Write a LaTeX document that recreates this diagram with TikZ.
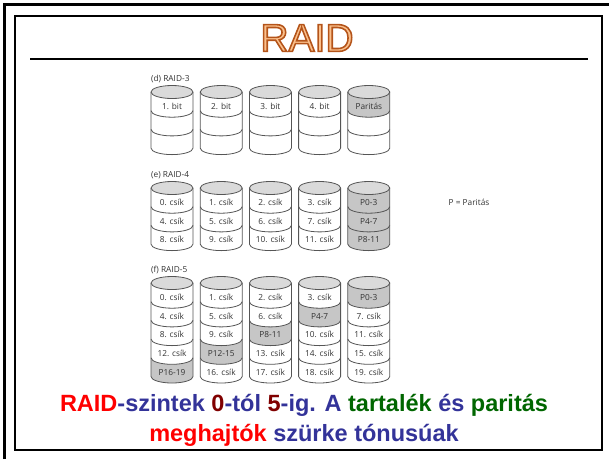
\documentclass[tikz,border=0pt]{standalone}
\usepackage{fontspec}
\setmainfont{Liberation Sans}
\newfontfamily\diskfont{Open Sans}
\newfontfamily\titlefont[FakeBold=4]{Liberation Sans}
\definecolor{titlefill}{HTML}{FBC08C}
\definecolor{titleedge}{HTML}{B4541A}
\definecolor{diskline}{HTML}{555555}
\definecolor{disktop}{HTML}{DADADA}
\definecolor{paritygray}{HTML}{C6C6C6}
\definecolor{disktext}{HTML}{333333}
\definecolor{raidred}{HTML}{FF0000}
\definecolor{raidblue}{HTML}{333399}
\definecolor{raidbrown}{HTML}{800000}
\definecolor{raidgreen}{HTML}{006600}

\begin{document}
\begin{tikzpicture}[x=1pt,y=-1pt,
  disk/.style={draw=diskline, line width=0.8pt},
  disklabel/.style={font=\diskfont\fontsize{8.3}{9}\selectfont, text=disktext, inner sep=0pt},
  bigline/.style={font=\bfseries\fontsize{23.5}{28}\selectfont, inner sep=0pt}]
\useasboundingbox (0,0) rectangle (609,459);
%
\draw[line width=2.5pt] (4.5,459) -- (4.5,4.5) -- (609,4.5);
\draw[line width=1.2pt] (15,16) rectangle (602,450);
%
\node[inner sep=0pt] (title) at (307,38)
  {\titlefont\fontsize{39}{39}\selectfont\color{titlefill}\special{pdf:code 0.706 0.329 0.102 RG}RAID};
\draw[line width=2pt] (30,59) -- (588,59);
%
% disk bodies
\foreach \y/\n in {92/3,188/3,283/5}
  \foreach \c in {172,221.2,270.4,319.6,368.8}
    \fill[white] (\c-21,\y) -- (\c-21,\y+\n*18.7)
      arc[start angle=180,end angle=360,x radius=21pt,y radius=6.5pt] -- (\c+21,\y) -- cycle;
%
% parity stripes
\foreach \c/\y/\k in {368.8/92/1, 368.8/188/1, 368.8/188/2, 368.8/188/3,
                      368.8/283/1, 319.6/283/2, 270.4/283/3, 221.2/283/4, 172/283/5}
  \fill[paritygray] (\c-21,\y+\k*18.7-18.7)
    arc[start angle=180,end angle=360,x radius=21pt,y radius=6.5pt] -- (\c+21,\y+\k*18.7)
    arc[start angle=0,end angle=-180,x radius=21pt,y radius=6.5pt] -- cycle;
%
% disk outlines
\foreach \y/\n in {92/3,188/3,283/5}{
  \pgfmathtruncatemacro\m{\n-1}
  \foreach \c in {172,221.2,270.4,319.6,368.8}{
    \draw[disk] (\c-21,\y) -- (\c-21,\y+\n*18.7)
      arc[start angle=180,end angle=360,x radius=21pt,y radius=6.5pt] -- (\c+21,\y);
    \foreach \k in {1,...,\m}
      \draw[disk] (\c-21,\y+\k*18.7) arc[start angle=180,end angle=360,x radius=21pt,y radius=6.5pt];
    \draw[disk,fill=disktop] (\c,\y) ellipse [x radius=21pt, y radius=6.5pt];
  }
}
%
\node[disklabel,anchor=west] (raid3) at (151,79) {(d) RAID-3};
\node[disklabel,anchor=west] (raid4) at (151,175) {(e) RAID-4};
\node[disklabel,anchor=west] (raid5) at (151,270) {(f) RAID-5};
\node[disklabel] (pkey) at (469,202) {P = Paritás};
%
\foreach \t [count=\i] in {1. bit,2. bit,3. bit,4. bit,Paritás}
  \node[disklabel] (d\i) at ({172+49.2*(\i-1)},106.35) {\t};
%
\foreach \t [count=\i] in {0. csík,1. csík,2. csík,3. csík,P0-3}
  \node[disklabel] (ea\i) at ({172+49.2*(\i-1)},202.35) {\t};
\foreach \t [count=\i] in {4. csík,5. csík,6. csík,7. csík,P4-7}
  \node[disklabel] (eb\i) at ({172+49.2*(\i-1)},221.05) {\t};
\foreach \t [count=\i] in {8. csík,9. csík,10. csík,11. csík,P8-11}
  \node[disklabel] (ec\i) at ({172+49.2*(\i-1)},239.75) {\t};
%
\foreach \t [count=\i] in {0. csík,1. csík,2. csík,3. csík,P0-3}
  \node[disklabel] (fa\i) at ({172+49.2*(\i-1)},297.35) {\t};
\foreach \t [count=\i] in {4. csík,5. csík,6. csík,P4-7,7. csík}
  \node[disklabel] (fb\i) at ({172+49.2*(\i-1)},316.05) {\t};
\foreach \t [count=\i] in {8. csík,9. csík,P8-11,10. csík,11. csík}
  \node[disklabel] (fc\i) at ({172+49.2*(\i-1)},334.75) {\t};
\foreach \t [count=\i] in {12. csík,P12-15,13. csík,14. csík,15. csík}
  \node[disklabel] (fd\i) at ({172+49.2*(\i-1)},353.45) {\t};
\foreach \t [count=\i] in {P16-19,16. csík,17. csík,18. csík,19. csík}
  \node[disklabel] (fe\i) at ({172+49.2*(\i-1)},372.15) {\t};
%
\node[bigline] (cap1) at (304,405) {\textcolor{raidred}{RAID}\textcolor{raidblue}{-szintek}
  \textcolor{raidbrown}{0}\textcolor{raidblue}{-tól} \textcolor{raidbrown}{5}\textcolor{raidblue}{-ig. A}
  \textcolor{raidgreen}{tartalék} \textcolor{raidblue}{és} \textcolor{raidgreen}{paritás}};
\node[bigline] (cap2) at (304,435) {\textcolor{raidred}{meghajtók} \textcolor{raidblue}{szürke tónusúak}};
\end{tikzpicture}
\end{document}
